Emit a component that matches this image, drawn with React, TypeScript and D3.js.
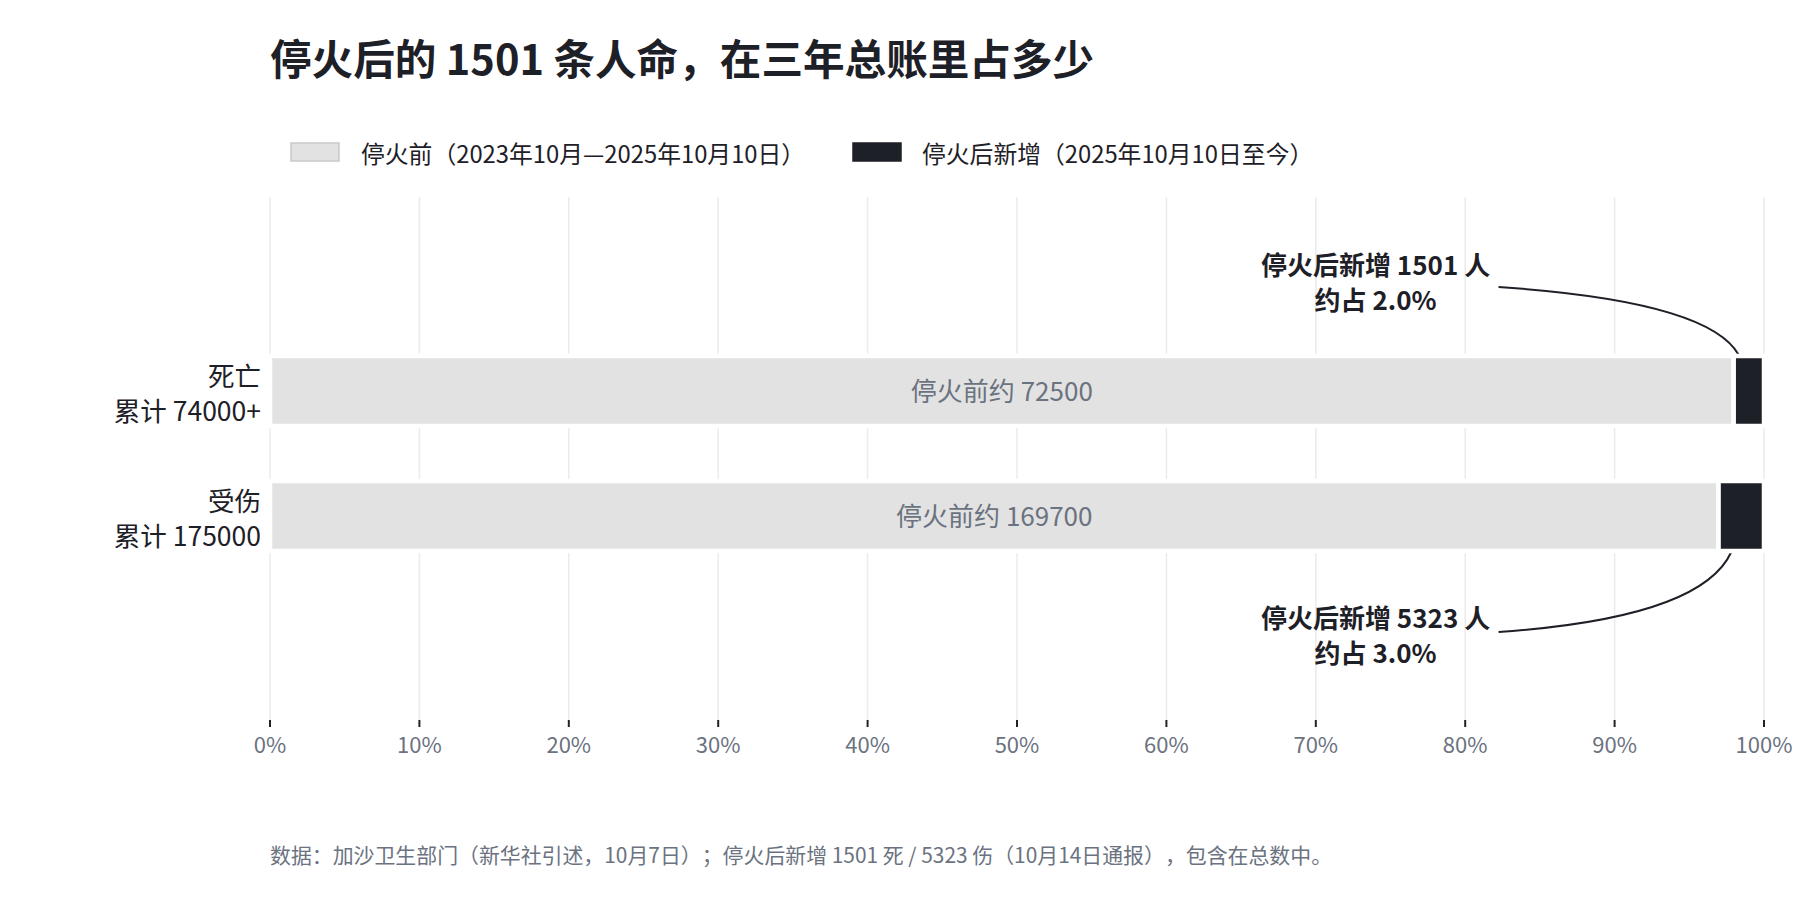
import React from "react";
import * as d3 from "d3";

const categories = ["死亡", "受伤"];
const categoryTotals = ["累计 74000+", "累计 175000"];
const preValues = [72500, 169700];
const postValues = [1501, 5323];
const legendLabels = ["停火前（2023年10月—2025年10月10日）", "停火后新增（2025年10月10日至今）"];
const tickValues = [0, 0.1, 0.2, 0.3, 0.4, 0.5, 0.6, 0.7, 0.8, 0.9, 1];
const titleText = "停火后的 1501 条人命，在三年总账里占多少";
const footerText = "数据：加沙卫生部门（新华社引述，10月7日）；停火后新增 1501 死 / 5323 伤（10月14日通报），包含在总数中。";

const W = 1800;
const H = 900;
const FONT = "'Noto Sans CJK SC', 'Noto Sans', sans-serif";
const PRE_COLOR = "#e2e2e2";
const POST_COLOR = "#1e2027";
const MUTED = "#6b7280";
const DARK = "#1e2027";

export default function App() {
  const x = d3.scaleLinear().domain([0, 1]).range([270, 1764]);
  const y = d3.scaleBand<string>().domain(categories).range([356, 551]).paddingInner(0.44);
  const bw = y.bandwidth();
  const gridTop = 197;
  const axisY = 720;
  const pct = d3.format(".0%");
  const pct1 = d3.format(".1%");
  const fmtN = d3.format("d");

  const rows = categories.map((c, i) => {
    const total = preValues[i] + postValues[i];
    const preFrac = preValues[i] / total;
    const postFrac = postValues[i] / total;
    return { c, i, total, preFrac, postFrac };
  });

  const noTrim: any = { textSpacingTrim: "space-all" };

  return (
    <svg
      width={W}
      height={H}
      style={{ position: "absolute", left: 0, top: 0, background: "#fff" }}
      fontFamily={FONT}
    >
      {/* title */}
      <text x={x(0)} y={57} dominantBaseline="central" fontSize={41.6} fontWeight={700} fill={DARK} style={noTrim}>
        {titleText}
      </text>

      {/* legend */}
      <g>
        <rect x={291} y={143} width={48} height={18} fill={PRE_COLOR} stroke="#c9c9c9" strokeWidth={1.5} />
        <text x={361} y={152} dominantBaseline="central" fontSize={23.8} fill={DARK} style={noTrim}>
          {legendLabels[0]}
        </text>
        <rect x={853} y={143} width={48} height={18} fill={POST_COLOR} stroke={POST_COLOR} strokeWidth={1.5} />
        <text x={922} y={152} dominantBaseline="central" fontSize={23.8} fill={DARK} style={noTrim}>
          {legendLabels[1]}
        </text>
      </g>

      {/* gridlines and ticks */}
      {tickValues.map((t) => (
        <g key={t}>
          <line x1={x(t)} x2={x(t)} y1={gridTop} y2={axisY} stroke="#ebebeb" strokeWidth={1.5} />
          <line x1={x(t)} x2={x(t)} y1={axisY} y2={axisY + 7} stroke="#222" strokeWidth={2} />
          <text x={x(t)} y={753} textAnchor="middle" fontSize={22} fill={MUTED}>
            {pct(t)}
          </text>
        </g>
      ))}

      {/* connectors */}
      {rows.map((r) => {
        const dir = r.i === 0 ? -1 : 1;
        const ax = x(0.74);
        const line1 = r.i === 0 ? (y(r.c) as number) + bw / 2 - 128 : (y(r.c) as number) + bw / 2 + 100;
        const sx = ax + 123;
        const sy = line1 + (r.i === 0 ? 24 : 16);
        const segCenter = x(r.preFrac + r.postFrac / 2);
        const ex = segCenter - 10;
        const ey = r.i === 0 ? (y(r.c) as number) - 1 : (y(r.c) as number) + bw + 1;
        const cx = ex - 30;
        const cy = sy - dir * 14;
        return (
          <path
            key={"c" + r.c}
            d={`M${sx},${sy} Q${cx},${cy} ${ex},${ey}`}
            fill="none"
            stroke={DARK}
            strokeWidth={2}
          />
        );
      })}

      {/* bars */}
      {rows.map((r) => {
        const y0 = y(r.c) as number;
        return (
          <g key={r.c}>
            <rect
              x={x(0)}
              y={y0}
              width={x(r.preFrac) - x(0)}
              height={bw}
              fill={PRE_COLOR}
              stroke="#fff"
              strokeWidth={4.5}
            />
            <rect
              x={x(r.preFrac)}
              y={y0}
              width={x(1) - x(r.preFrac)}
              height={bw}
              fill={POST_COLOR}
              stroke="#fff"
              strokeWidth={4.5}
            />
            <text
              x={(x(0) + x(r.preFrac)) / 2}
              y={y0 + bw / 2 - 2}
              dominantBaseline="central"
              textAnchor="middle"
              fontSize={26}
              fill={MUTED}
            >
              {"停火前约 " + fmtN(preValues[r.i])}
            </text>
            <text textAnchor="end" fontSize={26.5} fill={DARK} dominantBaseline="central">
              <tspan x={261} y={y0 + bw / 2 - 17}>{r.c}</tspan>
              <tspan x={261} y={y0 + bw / 2 + 18}>{categoryTotals[r.i]}</tspan>
            </text>
          </g>
        );
      })}

      {/* annotations */}
      {rows.map((r) => {
        const yc = (y(r.c) as number) + bw / 2;
        const line1 = r.i === 0 ? yc - 128 : yc + 100;
        const ax = x(0.74);
        return (
          <text key={"a" + r.c} fontWeight={700} fontSize={26} fill={DARK} textAnchor="middle" dominantBaseline="central">
            <tspan x={ax} y={line1}>{"停火后新增 " + fmtN(postValues[r.i]) + " 人"}</tspan>
            <tspan x={ax} y={line1 + 35}>{"约占 " + pct1(r.postFrac)}</tspan>
          </text>
        );
      })}

      {/* footer */}
      <text x={x(0)} y={854} dominantBaseline="central" fontSize={20.9} fill={MUTED} style={noTrim}>
        {footerText}
      </text>
    </svg>
  );
}
